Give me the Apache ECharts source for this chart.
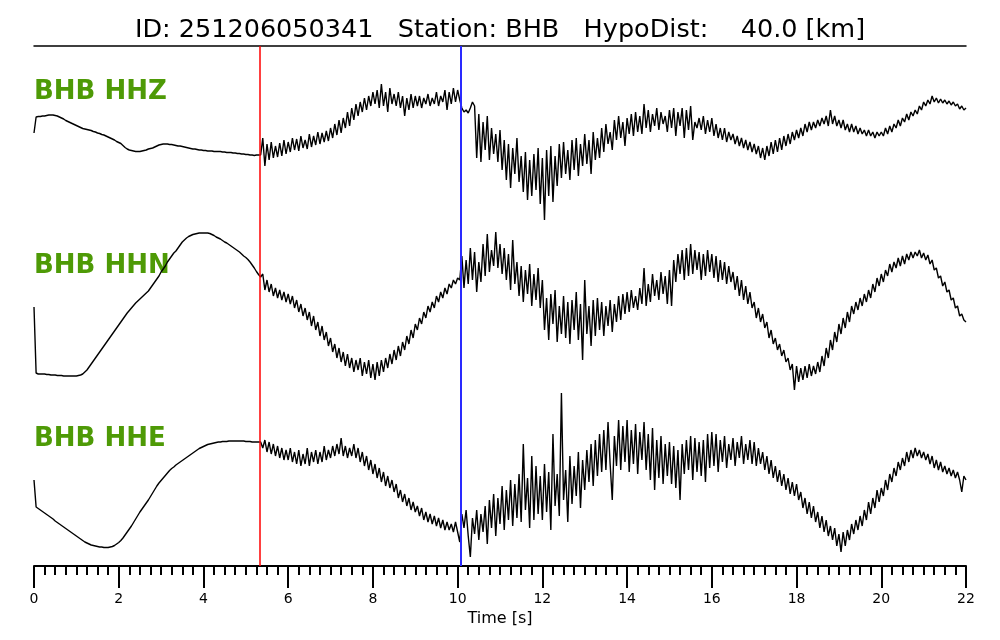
<!DOCTYPE html>
<html>
<head>
<meta charset="utf-8">
<script src="https://cdn.jsdelivr.net/npm/echarts@6/dist/echarts.min.js"></script>
<style>html,body{margin:0;padding:0;background:#fff}#chart{width:1000px;height:640px}</style>
</head>
<body>
<div id="chart"></div>
<script>
// ---------------- DATA ----------------
const titleText = 'ID: 251206050341   Station: BHB   HypoDist:    40.0 [km]';
const channels = ['BHB HHZ', 'BHB HHN', 'BHB HHE'];
const STEP = 0.05;            // sample spacing of the traces [s]
const X_MIN = 0, X_MAX = 22, X_MAJOR = 2;
const pickTimes = [5.34, 10.08];   // P and S picks [s]

// trace amplitudes (arbitrary counts), one row per second, 20 samples per row
const hhz = [
 -3,13,13.5,13.5,14,14,14.5,15,15,15,14.5,14,13,12,11,9.5,8.5,7.5,6.5,5.5,
 4.5,3.5,2.5,1.5,1,0.5,0,-0.5,-1.5,-2,-3,-3.5,-4.5,-5,-6,-7,-8,-9,-10,-11.5,
 -12.5,-13.5,-15.5,-17.5,-19,-20,-20.5,-21,-21.5,-21.5,-21.5,-21,-20.5,-20,-19,-18.5,-18,-17,-16,-15,
 -14.5,-14,-14,-14,-14.5,-14.5,-15,-15.5,-16,-16,-16.5,-17,-17.5,-18,-18.5,-19,-19,-19.5,-20,-20,
 -20.5,-20.5,-21,-21,-21,-21.5,-21.5,-21.5,-21.5,-22,-22,-22.5,-22.5,-22.5,-23,-23,-23.5,-23.5,-24,-24,
 -24.5,-24.5,-25,-25,-25.5,-25,-25,-25,-8,-36,-14,-30,-12,-28,-16,-27,-13,-26,-10,-24,
 -12,-22,-8,-20,-9,-21,-6,-18,-10,-19,-4,-17,-6,-15,-2,-14,-3,-12,-1,-11,
 2,-8,6,-5,10,-3,12,2,18,4,22,10,26,14,28,18,32,20,34,24,
 38,26,40,22,46,24,38,18,42,26,36,24,38,22,34,14,32,20,36,22,
 34,24,34,22,32,26,36,24,32,26,38,24,34,28,40,20,38,26,42,28,
 40,30,22,18,20,17,22,28,24,-28,16,-32,8,-20,14,-30,2,-24,-4,-32,
 0,-40,-10,-50,-14,-58,-18,-44,-8,-52,-26,-62,-22,-70,-30,-66,-24,-60,-18,-74,
 -28,-90,-20,-66,-16,-72,-26,-56,-14,-48,-12,-44,-20,-50,-10,-40,-8,-46,-14,-36,
 -4,-34,-10,-44,-2,-30,-8,-28,2,-22,6,-14,-2,-20,10,-10,14,-8,8,-16,
 12,-4,16,-6,18,-2,14,-4,26,2,20,-2,16,4,22,0,18,6,14,-2,
 20,2,22,-6,18,4,22,-8,20,0,24,-10,8,2,12,0,14,-4,10,-2,
 12,-6,6,-8,2,-10,2,-12,-2,-10,-4,-14,-6,-16,-8,-18,-10,-20,-12,-22,
 -14,-24,-16,-28,-18,-30,-16,-26,-12,-24,-10,-22,-8,-20,-6,-16,-4,-14,-2,-10,
 0,-8,2,-6,6,-2,8,0,8,2,10,4,12,6,14,4,20,6,14,4,
 10,2,10,0,6,-2,6,-2,4,-4,2,-4,0,-6,0,-6,-2,-8,-2,-6,
 -2,-6,2,-4,4,-2,6,2,10,4,12,8,16,10,18,14,20,16,24,20,
 28,24,30,26,34,28,32,27,31,27,30,26,29,25,28,24,26,21,24,20,
 22
];
const hhn = [
 3,-63,-64,-64,-64,-64,-64.5,-64.5,-65,-65,-65,-65.5,-65.5,-65.5,-66,-66,-66,-66,-66,-66,
 -66,-65.5,-65,-64,-62,-60,-57,-54,-51,-48,-45,-42,-39,-36,-33,-30,-27,-24,-21,-18,
 -15,-12,-9,-6,-3,-0.5,2,4.5,7,9,11,13,15,17,19,22,25,28,31,34,
 38,41,44,48,51,54,57,59,62,65,68,70,72,73.5,74.5,75.5,76,76.5,77,77,
 77,77,77,76.5,75.5,74.5,73,72,71,69.5,68,67,65.5,64,62.5,61,59.5,58,56,54,
 52.5,50.5,48,45,42,38.5,35.5,33,36,20,30,18,26,14,22,12,20,10,18,8,
 16,6,14,2,10,-2,6,-6,2,-10,-2,-16,-6,-20,-12,-26,-16,-30,-22,-36,
 -28,-42,-34,-48,-38,-52,-42,-56,-44,-58,-48,-62,-50,-60,-48,-66,-52,-64,-50,-68,
 -54,-70,-52,-66,-50,-62,-48,-58,-44,-54,-40,-50,-36,-46,-32,-40,-26,-34,-20,-28,
 -14,-20,-8,-14,-2,-8,4,-2,8,2,14,8,18,12,22,16,26,22,30,26,
 32,30,54,22,50,26,62,30,58,18,48,28,66,34,76,38,60,44,78,42,
 66,36,62,30,56,20,70,26,48,14,44,8,40,16,46,4,36,10,42,2,
 30,-20,12,-30,16,-14,20,-32,4,-24,14,-28,8,-34,10,-20,18,-30,6,-50,
 30,-24,4,-36,10,-26,12,-20,8,-26,4,-16,10,-22,6,-12,14,-10,16,-4,
 18,-2,20,2,14,0,22,6,42,4,26,8,36,14,30,10,38,16,34,6,
 40,4,50,28,56,36,60,30,62,34,66,36,60,40,58,30,56,34,60,38,
 56,32,54,28,50,30,48,26,44,28,38,20,34,14,30,10,24,6,18,2,
 8,-8,2,-12,-4,-18,-12,-28,-20,-34,-28,-40,-34,-46,-40,-52,-48,-60,-54,-80,
 -56,-72,-58,-70,-56,-68,-54,-66,-56,-64,-52,-62,-46,-56,-38,-48,-30,-40,-22,-32,
 -14,-24,-8,-18,-2,-12,4,-4,8,0,12,4,16,8,20,12,26,18,32,24,
 36,28,40,34,46,38,48,42,52,44,54,46,56,50,58,52,58,54,60,52,
 57,50,55,46,50,40,42,32,34,24,28,18,20,10,12,2,4,-6,-4,-10,
 -12
];
const hhe = [
 -10,-37,-38.5,-40,-41.5,-43,-44.5,-46,-47.5,-49,-51,-52.5,-54,-55.5,-57,-58.5,-60,-61.5,-63,-64.5,
 -66,-67.5,-69,-70.5,-72,-73,-74,-75,-75.5,-76,-76.5,-77,-77,-77.5,-77.5,-77.5,-77,-76.5,-75.5,-74,
 -72.5,-70.5,-68,-65,-62,-59,-56,-52.5,-49,-45.5,-42,-39,-36,-33,-30,-26.5,-23,-19.5,-16,-13,
 -10.5,-8,-5.5,-3,-0.5,1.5,3,5,6.5,8,9.5,11,12.5,14,15.5,17,18.5,20,21.5,22.5,
 23.5,24.5,25.5,26,26.5,27,27.5,28,28,28.5,28.5,28.5,29,29,29,29,29,29,29,29,
 28.5,28.5,28.5,28,28,28,28,28,22,30,18,28,16,26,14,24,12,22,10,20,
 10,22,8,18,6,20,4,16,6,22,4,18,8,20,6,18,8,24,10,20,
 12,24,14,26,16,32,14,24,12,22,14,26,12,22,8,18,4,14,0,10,
 -4,6,-8,2,-12,-2,-16,-6,-18,-10,-22,-14,-28,-20,-32,-24,-36,-28,-40,-32,
 -42,-36,-46,-38,-50,-42,-52,-44,-54,-46,-56,-48,-58,-50,-60,-52,-60,-54,-62,-52,
 -62,-72,-44,-58,-40,-66,-87,-48,-64,-40,-70,-44,-62,-36,-74,-30,-58,-24,-66,-28,
 -54,-16,-60,-20,-50,-10,-56,-14,-48,-4,-52,26,-40,-8,-58,14,-50,4,-44,-6,
 -50,6,-42,-2,-60,36,-36,-4,-46,77,-30,0,-52,14,-34,4,-26,18,-38,10,
 -20,20,-12,26,-16,30,-6,36,-2,40,0,48,6,-30,34,4,50,0,44,8,
 50,-2,40,6,46,-4,38,10,48,0,36,-10,42,-20,30,-8,34,-14,26,-6,
 28,-14,24,-18,20,-30,26,-4,30,0,34,-10,32,-2,28,-6,30,-12,36,2,
 38,4,36,-2,30,8,34,2,26,10,32,4,28,12,34,6,26,10,30,6,
 28,4,22,6,18,0,14,-4,10,-8,4,-12,0,-16,-4,-20,-8,-24,-12,-26,
 -14,-30,-22,-38,-28,-44,-32,-48,-36,-52,-42,-58,-46,-62,-50,-66,-56,-70,-58,-76,
 -64,-82,-62,-76,-60,-70,-54,-64,-50,-60,-46,-56,-40,-50,-32,-44,-28,-38,-20,-32,
 -18,-26,-10,-20,-4,-12,2,-6,8,0,12,4,18,8,20,12,22,14,20,12,
 18,10,16,6,14,2,10,0,8,-2,4,-4,2,-6,0,-8,-2,-10,-22,-6,
 -10
];
const traces = [hhz, hhn, hhe];

// ---------------- LAYOUT / STYLE ----------------
const FONT = 'DejaVu Sans';
const PLOT_L = 34, PLOT_R = 34;
const traceGrids = [
  { top: 60,  height: 180, ymin: -110, ymax: 70 },
  { top: 220, height: 180, ymin: -90,  ymax: 90 },
  { top: 380, height: 180, ymin: -90,  ymax: 90 }
];
const labelY = [91, 265, 438];
const pickColors = ['#ff0000', '#2a2aff'];
const pickWidths = [1.5, 2];

const grid = [{ left: PLOT_L, right: PLOT_R, top: 46, bottom: 74 }];
const xAxis = [
  {
    gridIndex: 0, type: 'value', min: X_MIN, max: X_MAX, interval: X_MAJOR, position: 'bottom',
    axisLine: { show: true, onZero: false, lineStyle: { color: '#000', width: 2 } },
    axisTick: { show: true, length: 22, lineStyle: { color: '#000', width: 2 } },
    minorTick: { show: true, splitNumber: 8, length: 9, lineStyle: { color: '#000', width: 2 } },
    splitLine: { show: false }, minorSplitLine: { show: false },
    axisLabel: { margin: 26, fontSize: 14, color: '#000', fontFamily: FONT },
    name: 'Time [s]', nameLocation: 'middle', nameGap: 41,
    nameTextStyle: { fontSize: 16, color: '#000', fontFamily: FONT }
  },
  {
    gridIndex: 0, type: 'value', min: X_MIN, max: X_MAX, position: 'top',
    axisLine: { show: true, onZero: false, lineStyle: { color: '#000', width: 1.5 } },
    axisTick: { show: false }, axisLabel: { show: false }, splitLine: { show: false }
  }
];
const yAxis = [{ gridIndex: 0, type: 'value', min: 0, max: 1, show: false }];
const series = [{
  type: 'line', xAxisIndex: 0, yAxisIndex: 0, data: [[X_MIN, null]], showSymbol: false,
  lineStyle: { opacity: 0 }, silent: true, z: 5,
  markLine: {
    silent: true, symbol: 'none', animation: false,
    label: { show: false },
    data: pickTimes.map((t, i) => ({ xAxis: t, lineStyle: { color: pickColors[i], width: pickWidths[i], type: 'solid' } }))
  }
}];

traceGrids.forEach((g, k) => {
  const gi = k + 1;
  grid.push({ left: PLOT_L, right: PLOT_R, top: g.top, height: g.height });
  xAxis.push({ gridIndex: gi, type: 'value', min: X_MIN, max: X_MAX, show: false });
  yAxis.push({ gridIndex: gi, type: 'value', min: g.ymin, max: g.ymax, show: false });
  series.push({
    type: 'line', xAxisIndex: gi + 1, yAxisIndex: gi,
    data: traces[k].map((v, i) => [+(i * STEP).toFixed(2), v]),
    showSymbol: false, symbol: 'none', silent: true, z: 3,
    lineStyle: { color: '#000', width: 1.4 }
  });
});

const chart = echarts.init(document.getElementById('chart'), null, { renderer: 'canvas' });
chart.setOption({
  animation: false,
  backgroundColor: '#fff',
  title: {
    text: titleText, left: 'center', top: 12,
    textStyle: { fontSize: 25.5, fontWeight: 'normal', fontFamily: FONT, color: '#000' }
  },
  grid, xAxis, yAxis, series,
  graphic: channels.map((c, k) => ({
    type: 'text', left: PLOT_L, top: labelY[k] - 12, z: 0,
    style: { text: c, fill: '#4e9a06', font: 'bold 26px "DejaVu Sans"' }
  }))
});
</script>
</body>
</html>
